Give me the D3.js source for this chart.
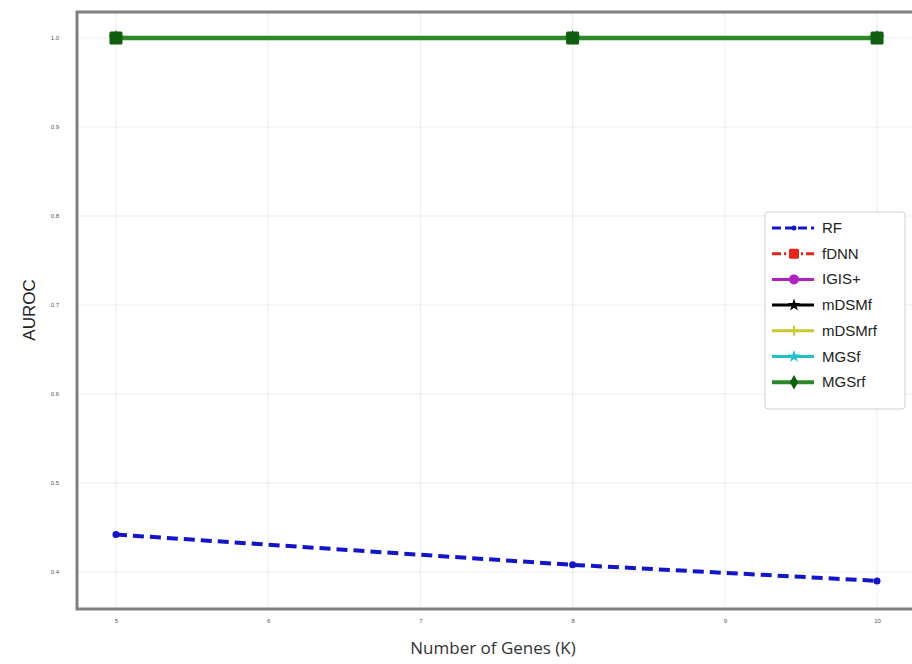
<!DOCTYPE html>
<html>
<head>
<meta charset="utf-8">
<script src="https://cdn.jsdelivr.net/npm/d3@7"></script>
<style>
  body { margin: 0; background: #fff; }
  svg { display: block; font-family: "DejaVu Sans", sans-serif; }
</style>
</head>
<body>
<div id="chart"></div>
<script>
// data
const genes = [5, 8, 10];
const xTicks = [5, 6, 7, 8, 9, 10];
const yTicks = [0.4, 0.5, 0.6, 0.7, 0.8, 0.9, 1.0];
const seriesNames = ['RF', 'fDNN', 'IGIS+', 'mDSMf', 'mDSMrf', 'MGSf', 'MGSrf'];
const rfValues = [0.442, 0.408, 0.390];
const fdnnValues = [1.0, 1.0, 1.0];
const igisValues = [1.0, 1.0, 1.0];
const mdsmfValues = [1.0, 1.0, 1.0];
const mdsmrfValues = [1.0, 1.0, 1.0];
const mgsfValues = [1.0, 1.0, 1.0];
const mgsrfValues = [1.0, 1.0, 1.0];

const seriesValues = [rfValues, fdnnValues, igisValues, mdsmfValues, mdsmrfValues, mgsfValues, mgsrfValues];
const styles = [
    {color: '#1515c8', width: 4, dash: '11,6', marker: 'circle', size: 7},
    {color: '#e8231c', width: 3, dash: '9,3,2,3', marker: 'square', size: 12},
    {color: '#b022c0', width: 3, dash: null, marker: 'circle', size: 12},
    {color: '#000000', width: 3, dash: null, marker: 'star', size: 12},
    {color: '#c8c832', width: 2, dash: null, marker: 'plus', size: 10},
    {color: '#22c0c8', width: 3, dash: null, marker: 'star', size: 8},
    {color: '#2a8a2a', width: 4.5, dash: null, marker: 'square', size: 13}
];

const W = 912, H = 664;
const margin = {top: 12, right: -4, bottom: 55, left: 77};
const width = W - margin.left - margin.right;
const height = H - margin.top - margin.bottom;

const svg = d3.select('#chart').append('svg')
    .attr('width', W)
    .attr('height', H);

const g = svg.append('g')
    .attr('transform', `translate(${margin.left},${margin.top})`);

const x = d3.scaleLinear().domain([4.744, 10.256]).range([0, width]);
const y = d3.scaleLinear().domain([0.3584, 1.0292]).range([height, 0]);

// grid
g.append('g').selectAll('line').data(xTicks).enter().append('line')
    .attr('x1', d => x(d)).attr('x2', d => x(d))
    .attr('y1', 0).attr('y2', height)
    .attr('stroke', '#ececec').attr('stroke-width', 1);
g.append('g').selectAll('line').data(yTicks).enter().append('line')
    .attr('y1', d => y(d)).attr('y2', d => y(d))
    .attr('x1', 0).attr('x2', width)
    .attr('stroke', '#ececec').attr('stroke-width', 1);

// axes
const xAxis = g.append('g')
    .attr('transform', `translate(0,${height})`)
    .call(d3.axisBottom(x).tickValues(xTicks).tickSize(0).tickPadding(10).tickFormat(d3.format('d')));
const yAxis = g.append('g')
    .call(d3.axisLeft(y).tickValues(yTicks).tickSize(0).tickPadding(18).tickFormat(d3.format('.1f')));
[xAxis, yAxis].forEach(a => {
    a.select('.domain').remove();
    a.selectAll('text').attr('fill', '#555').style('font-size', '6px');
});

// spines
g.append('rect')
    .attr('x', 0).attr('y', 0)
    .attr('width', width).attr('height', height)
    .attr('fill', 'none')
    .attr('stroke', '#808080')
    .attr('stroke-width', 3);

function drawMarker(sel, st) {
    const s = st.size;
    if (st.marker === 'circle') {
        sel.append('circle').attr('r', s / 2).attr('fill', st.color);
    } else if (st.marker === 'square') {
        sel.append('rect').attr('x', -s / 2).attr('y', -s / 2)
            .attr('width', s).attr('height', s).attr('rx', 1.5).attr('fill', st.fill || st.color);
    } else if (st.marker === 'star') {
        sel.append('path').attr('d', d3.symbol(d3.symbolStar, s * s * 0.5)()).attr('fill', st.color);
    } else if (st.marker === 'plus') {
        sel.append('path').attr('d', `M${-s/2},0H${s/2}M0,${-s/2}V${s/2}`)
            .attr('stroke', st.color).attr('stroke-width', 2);
    } else if (st.marker === 'diamond') {
        sel.append('path').attr('d', d3.symbol(d3.symbolDiamond, s * s * 0.6)()).attr('fill', st.fill || st.color);
    }
}

// lines
const line = d3.line().x((d, i) => x(genes[i])).y(d => y(d));
seriesValues.forEach((vals, k) => {
    const st = styles[k];
    g.append('path')
        .datum(vals)
        .attr('d', line)
        .attr('fill', 'none')
        .attr('stroke', st.color)
        .attr('stroke-width', st.width)
        .attr('stroke-dasharray', st.dash);
    vals.forEach((v, i) => {
        const m = g.append('g').attr('transform', `translate(${x(genes[i])},${y(v)})`);
        drawMarker(m, k === 6 ? Object.assign({}, st, {fill: '#0f5f0f'}) : st);
    });
});

// legend
const legend = svg.append('g').attr('transform', 'translate(765,212)');
legend.append('rect')
    .attr('width', 140).attr('height', 197)
    .attr('rx', 3)
    .attr('fill', '#fff')
    .attr('stroke', '#d0d0d0');
const legendMarkers = ['circle', 'square', 'circle', 'star', 'plus', 'star', 'diamond'];
seriesNames.forEach((name, k) => {
    const st = styles[k];
    const row = legend.append('g').attr('transform', `translate(0,${16 + k * 25.7})`);
    row.append('line')
        .attr('x1', 7).attr('x2', 49)
        .attr('stroke', st.color)
        .attr('stroke-width', k === 6 ? 4 : 3)
        .attr('stroke-dasharray', k === 0 ? '9,4' : (k === 1 ? '9,3,2,3' : null));
    const mk = row.append('g').attr('transform', 'translate(29,0)');
    drawMarker(mk, Object.assign({}, st, {marker: legendMarkers[k], size: k === 0 ? 5 : 10, fill: k === 6 ? '#0f5f0f' : undefined}));
    row.append('text')
        .attr('x', 57).attr('y', 5)
        .attr('fill', '#222')
        .style('font-family', '"Liberation Sans", Arial, sans-serif')
        .style('font-size', '15px')
        .text(name);
});

// axis titles
svg.append('text')
    .attr('x', 493).attr('y', 654)
    .attr('text-anchor', 'middle')
    .attr('fill', '#333')
    .style('font-family', '"Open Sans", sans-serif')
    .style('font-size', '17px')
    .text('Number of Genes (K)');
svg.append('text')
    .attr('transform', 'translate(35,310) rotate(-90)')
    .attr('text-anchor', 'middle')
    .attr('fill', '#222')
    .style('font-family', '"Liberation Sans", Arial, sans-serif')
    .style('font-size', '17px')
    .text('AUROC');
</script>
</body>
</html>
